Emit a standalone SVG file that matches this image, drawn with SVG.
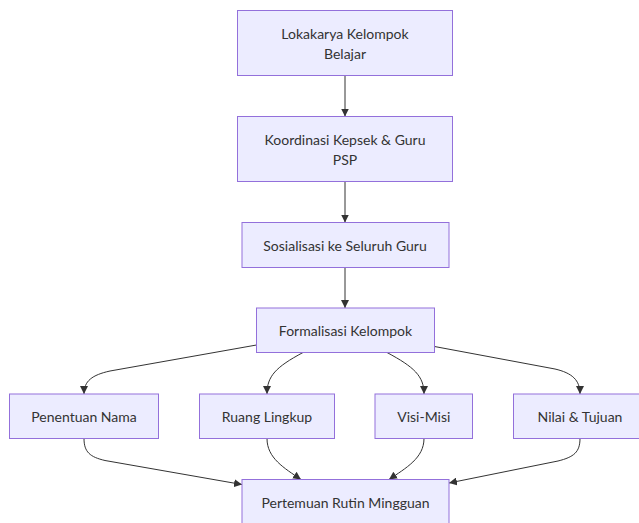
<svg xmlns="http://www.w3.org/2000/svg" width="639" height="523" viewBox="0 0 639 523">
<defs>
<style>
.node rect{fill:#ECECFF;stroke:#9370DB;stroke-width:1}
.node text{font-family:"Lato","Liberation Sans",sans-serif;font-size:14px;fill:#333333;text-anchor:middle;dominant-baseline:central}
.edges path{fill:none;stroke:#333333;stroke-width:1;marker-end:url(#arrow)}
</style>
<marker id="arrow" viewBox="0 0 10 10" refX="10" refY="5" markerWidth="8" markerHeight="8" markerUnits="userSpaceOnUse" orient="auto">
<path d="M0,0 L10,5 L0,10 z" fill="#333333"/>
</marker>
</defs>
<rect width="639" height="523" fill="#ffffff"/>
<g class="edges">
<path d="M345,75.5 L345,116.5"/>
<path d="M345,181.5 L345,222.5"/>
<path d="M345,267.5 L345,308"/>
<path d="M256.5,345 L110,371 C92,375 84,381 84,394"/>
<path d="M303,352.5 C276,367 267,376 267,394"/>
<path d="M387,352.5 C414,367 424,376 424,394"/>
<path d="M434.5,346.5 L555,369 C572,373 580,380 580,394"/>
<path d="M84,438.5 C84,452 90,457 105,460.5 L242,484.5"/>
<path d="M267,438.5 C267,458 284,468 301,479.5"/>
<path d="M424,438.5 C424,458 406,468 389,479.5"/>
<path d="M580,438.5 C580,452 574,457 558,461 L449,483"/>
</g>
<g id="n1" class="node"><rect x="237.5" y="10.5" width="215" height="65"/><text x="345" y="33">Lokakarya Kelompok</text><text x="345" y="53">Belajar</text></g>
<g id="n2" class="node"><rect x="237.5" y="116.5" width="215" height="65"/><text x="345" y="139">Koordinasi Kepsek &amp; Guru</text><text x="345" y="159">PSP</text></g>
<g id="n3" class="node"><rect x="242" y="222.5" width="207" height="45"/><text x="345" y="245">Sosialisasi ke Seluruh Guru</text></g>
<g id="n4" class="node"><rect x="256.5" y="308" width="178" height="44.5"/><text x="345.5" y="330.5">Formalisasi Kelompok</text></g>
<g id="n5" class="node"><rect x="9.5" y="394" width="149" height="44.5"/><text x="84" y="416.5">Penentuan Nama</text></g>
<g id="n6" class="node"><rect x="199.5" y="394" width="135" height="44.5"/><text x="267" y="416.5">Ruang Lingkup</text></g>
<g id="n7" class="node"><rect x="375" y="394" width="97.5" height="44.5"/><text x="423.75" y="416.5">Visi-Misi</text></g>
<g id="n8" class="node"><rect x="513.5" y="394" width="133" height="44.5"/><text x="580" y="416.5">Nilai &amp; Tujuan</text></g>
<g id="n9" class="node"><rect x="242" y="479.5" width="207" height="45"/><text x="345.5" y="502">Pertemuan Rutin Mingguan</text></g>
</svg>
